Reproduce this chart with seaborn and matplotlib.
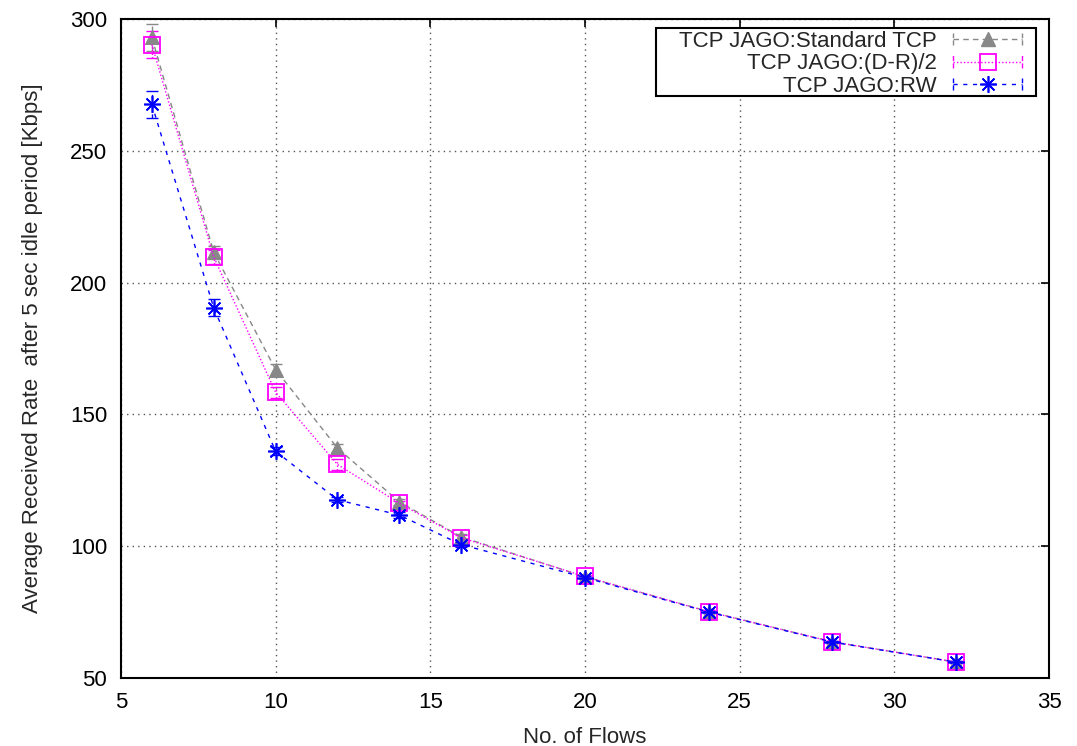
import matplotlib
matplotlib.use("Agg")
import matplotlib.pyplot as plt
from matplotlib.lines import Line2D
from matplotlib.patches import Rectangle
from matplotlib.legend_handler import HandlerLine2D
import seaborn as sns
import pandas as pd
import numpy as np

flows = [6, 8, 10, 12, 14, 16, 20, 24, 28, 32]
std_tcp = [293.0, 211.5, 167.0, 137.2, 116.8, 103.5, 88.4, 75.2, 63.7, 56.0]
dr_half = [290.3, 209.7, 158.4, 131.0, 116.3, 103.2, 88.5, 75.1, 63.7, 56.0]
rw = [267.6, 190.4, 136.0, 117.6, 111.8, 100.6, 88.1, 75.0, 63.6, 56.0]
std_err = [5.0, 2.5, 2.0, 1.5, 1.0, 1.0, 0.5, 0.5, 0.5, 0.5]
dr_err = [5.0, 2.5, 2.0, 2.0, 1.0, 1.0, 0.5, 0.5, 0.5, 0.5]
rw_err = [5.0, 3.2, 1.5, 1.0, 1.0, 1.0, 0.5, 0.5, 0.5, 0.5]
labels = ["TCP JAGO:Standard TCP", "TCP JAGO:(D-R)/2", "TCP JAGO:RW"]
xlabel = "No. of Flows"
ylabel = "Average Received Rate  after 5 sec idle period [Kbps]"

sns.set_theme(style="white")
plt.rcParams["font.family"] = ["Liberation Sans", "DejaVu Sans"]


class HandlerCapped(HandlerLine2D):
    """Line + marker sample with small vertical caps at both ends."""
    def create_artists(self, legend, orig_handle, xdescent, ydescent,
                       width, height, fontsize, trans):
        arts = super().create_artists(legend, orig_handle, xdescent, ydescent,
                                      width, height, fontsize, trans)
        y = height / 2 - ydescent
        x0 = -xdescent
        x1 = -xdescent + width
        h = 0.28 * fontsize
        for xx in (x0, x1):
            cap = Line2D([xx, xx], [y - h, y + h], color=orig_handle.get_color(),
                         linestyle=orig_handle.get_linestyle(), linewidth=1.0)
            cap.set_transform(trans)
            arts.append(cap)
        return arts


fig = plt.figure(figsize=(10.77, 7.46), dpi=100)
ax = fig.add_axes([0.1123, 0.0912, 0.974 - 0.1123, 0.9745 - 0.0912])

series = [
    (std_tcp, std_err, "#888888", (0, (4, 3)), "^", dict(markerfacecolor="#888888", markeredgecolor="#888888", markersize=10)),
    (dr_half, dr_err, "#ff00ff", (0, (1, 1.5)), "s", dict(markerfacecolor="none", markeredgecolor="#ff00ff", markersize=11, markeredgewidth=1.3)),
    (rw, rw_err, "#0000ff", (0, (3, 4)), (8, 2, 0), dict(markeredgecolor="#0000ff", markersize=12, markeredgewidth=1.2)),
]

handles = []
for (vals, err, color, ls, mk, mkw), lab in zip(series, labels):
    df = pd.DataFrame({"flows": flows, "rate": vals})
    sns.lineplot(data=df, x="flows", y="rate", ax=ax, color=color,
                 linestyle=ls, linewidth=1.0, marker=mk, **mkw, zorder=3)
    eb = ax.errorbar(flows, vals, yerr=err, fmt="none", ecolor=color,
                     elinewidth=1.0, capsize=4, capthick=1.0, zorder=2)
    for bl in eb[2]:
        bl.set_linestyle(ls)
    handles.append(Line2D([], [], color=color, linestyle=ls, linewidth=1.0,
                          marker=mk, **mkw))

ax.set_xlim(5, 35)
ax.set_ylim(50, 300)
ax.set_xticks([5, 10, 15, 20, 25, 30, 35])
ax.set_yticks([50, 100, 150, 200, 250, 300])
ax.grid(True, color="#555555", linestyle=(0, (1, 3)), linewidth=1.0)
ax.tick_params(direction="in", top=True, right=True, length=6, width=1.2,
               labelsize=16, colors="black", pad=10)
for sp in ax.spines.values():
    sp.set_color("black")
    sp.set_linewidth(1.5)

ax.set_xlabel(xlabel, fontsize=16, labelpad=10)
ax.set_ylabel(ylabel, fontsize=16, labelpad=19)

# gnuplot-style key box (wider on the left than the entries)
key_box = Rectangle((0.5765, 0.8832), 0.986 - 0.5765, 0.9863 - 0.8832,
                    transform=ax.transAxes, facecolor="white",
                    edgecolor="black", linewidth=1.5, zorder=5)
ax.add_patch(key_box)

leg = ax.legend(handles, labels, loc="upper right", markerfirst=False,
                fontsize=16, frameon=False, borderpad=0.0, labelspacing=0.06,
                handlelength=3.1, handletextpad=0.72, borderaxespad=0,
                bbox_to_anchor=(0.9709, 0.9818),
                handler_map={Line2D: HandlerCapped(numpoints=1)})
leg.set_zorder(6)

fig.savefig("out.png", dpi=100)
